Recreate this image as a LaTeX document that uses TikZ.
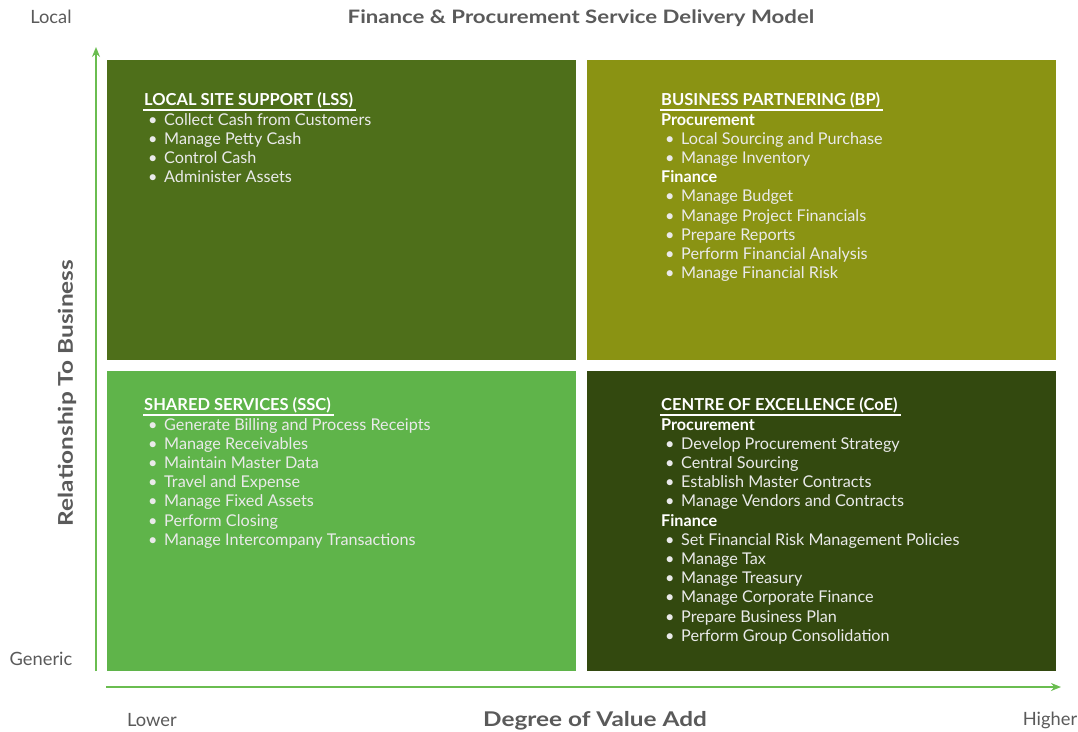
\documentclass[tikz,border=0pt]{standalone}
\usepackage{fontspec}
\setmainfont{Lato}
\newfontfamily\widefont[FakeStretch=1.2]{Lato}
\usetikzlibrary{arrows.meta}
\definecolor{qtl}{HTML}{4E6F1A}
\definecolor{qtr}{HTML}{8A9313}
\definecolor{qbl}{HTML}{5FB44A}
\definecolor{qbr}{HTML}{33490F}
\definecolor{axisgreen}{HTML}{6ABD50}
\definecolor{labelgray}{HTML}{5A5A5A}
\definecolor{bodytext}{HTML}{EAEAEA}
\newcommand{\itm}[1]{\hspace*{4pt}\makebox[16pt][l]{•}#1}
\newcommand{\subh}[1]{{\bfseries\color{white}#1}}
\tikzset{
  quad/.style={draw=none, minimum width=469pt, minimum height=300pt, inner sep=0pt},
  hdr/.style={anchor=base west, inner sep=0pt, text=white, font=\fontsize{16.5}{18}\selectfont\bfseries},
  line/.style={anchor=base west, inner sep=0pt, text=bodytext, font=\fontsize{16.2}{18}\selectfont},
  uline/.style={draw=white, line width=1.6pt},
  axislabel/.style={inner sep=0pt, text=labelgray, font=\fontsize{18.3}{20}\selectfont},
  axistitle/.style={inner sep=0pt, text=labelgray, font=\widefont\fontsize{20.3}{22}\selectfont\bfseries},
  axisarrow/.style={draw=axisgreen, line width=1.5pt, -{Stealth[length=10pt,width=8pt]}}
}
\begin{document}
\begin{tikzpicture}[x=1pt,y=-1pt]
\useasboundingbox[fill=white] (0,0) rectangle (1078,731);

% quadrants
\node[quad, fill=qtl] (lss) at (341.5,210) {};
\node[quad, fill=qtr] (bp)  at (821.5,210) {};
\node[quad, fill=qbl] (ssc) at (341.5,521) {};
\node[quad, fill=qbr] (coe) at (821.5,521) {};

% headers
\node[hdr] (lssh) at (144,105) {LOCAL SITE SUPPORT (LSS)};
\node[hdr] (bph)  at (661,105) {BUSINESS PARTNERING (BP)};
\node[hdr] (ssch) at (144,410) {SHARED SERVICES (SSC)};
\node[hdr] (coeh) at (661,410) {CENTRE OF EXCELLENCE (CoE)};
\foreach \h in {lssh,bph,ssch,coeh}
  \draw[uline] ([shift={(-1,5)}]\h.base west) -- ([shift={(3,5)}]\h.base east);

% bodies
\foreach \t [count=\i from 0] in {
  \itm{Collect Cash from Customers},
  \itm{Manage Petty Cash},
  \itm{Control Cash},
  \itm{Administer Assets}}
  \node[line] (lss-\i) at (144,125+19.2*\i) {\t};

\foreach \t [count=\i from 0] in {
  \subh{Procurement},
  \itm{Local Sourcing and Purchase},
  \itm{Manage Inventory},
  \subh{Finance},
  \itm{Manage Budget},
  \itm{Manage Project Financials},
  \itm{Prepare Reports},
  \itm{Perform Financial Analysis},
  \itm{Manage Financial Risk}}
  \node[line] (bp-\i) at (661,125+19.2*\i) {\t};

\foreach \t [count=\i from 0] in {
  \itm{Generate Billing and Process Receipts},
  \itm{Manage Receivables},
  \itm{Maintain Master Data},
  \itm{Travel and Expense},
  \itm{Manage Fixed Assets},
  \itm{Perform Closing},
  \itm{Manage Intercompany Transactions}}
  \node[line] (ssc-\i) at (144,430+19.2*\i) {\t};

\foreach \t [count=\i from 0] in {
  \subh{Procurement},
  \itm{Develop Procurement Strategy},
  \itm{Central Sourcing},
  \itm{Establish Master Contracts},
  \itm{Manage Vendors and Contracts},
  \subh{Finance},
  \itm{Set Financial Risk Management Policies},
  \itm{Manage Tax},
  \itm{Manage Treasury},
  \itm{Manage Corporate Finance},
  \itm{Prepare Business Plan},
  \itm{Perform Group Consolidation}}
  \node[line] (coe-\i) at (661,430+19.2*\i) {\t};

% axes
\coordinate (vstart) at (96,671);
\coordinate (vend) at (96,47);
\coordinate (hstart) at (106,687);
\coordinate (hend) at (1061,687);
\draw[axisarrow] (vstart) -- (vend);
\draw[axisarrow] (hstart) -- (hend);

% labels
\node[axistitle, font=\widefont\fontsize{18.5}{22}\selectfont\bfseries] (title) at (581,18.5) {Finance \& Procurement Service Delivery Model};
\node[axislabel] (local) at (51,17) {Local};
\node[axislabel] (generic) at (41,659) {Generic};
\node[axislabel] (lower) at (152,720) {Lower};
\node[axislabel] (higher) at (1050,720) {Higher};
\node[axistitle] (xtitle) at (595,720.5) {Degree of Value Add};
\node[axistitle, rotate=90] (ytitle) at (67,393) {Relationship To Business};
\end{tikzpicture}
\end{document}
